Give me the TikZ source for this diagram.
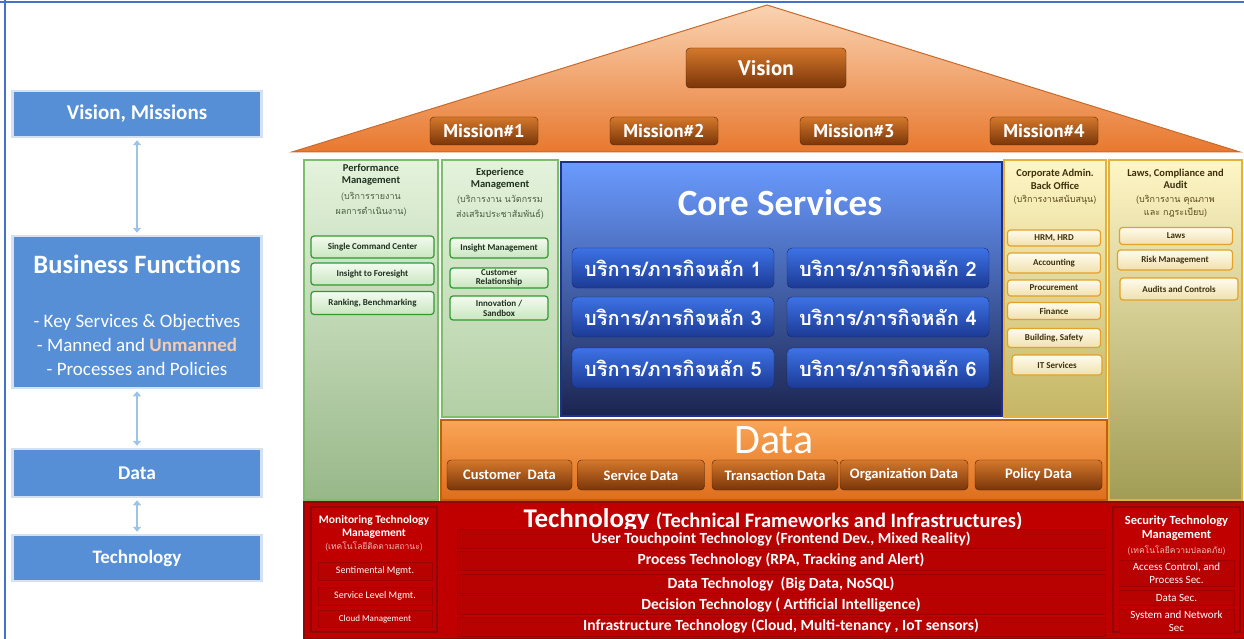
\documentclass[tikz,border=0pt]{standalone}
\usepackage{fontspec}
\setmainfont{Carlito}
\newfontfamily\thaifont[Script=Thai]{Loma}
\newfontfamily\roofFont{PT Sans}
\usetikzlibrary{arrows.meta, positioning, calc}
\definecolor{frameBlue}{HTML}{4472C4}
\definecolor{leftBlue}{HTML}{568FD6}
\definecolor{leftGlow}{HTML}{D5E1F1}
\definecolor{linkBlue}{HTML}{9DC3E6}
\definecolor{peach}{HTML}{F8CBAD}
\definecolor{roofTop}{HTML}{FAD3B2}
\definecolor{roofBot}{HTML}{E8782E}
\definecolor{roofEdge}{HTML}{C9692A}
\definecolor{brownTop}{HTML}{D4782C}
\definecolor{brownBot}{HTML}{7A3508}
\definecolor{brownEdge}{HTML}{4E2206}
\definecolor{greenTop}{HTML}{E4F3DC}
\definecolor{greenMid}{HTML}{B3CFA5}
\definecolor{greenBot}{HTML}{98B889}
\definecolor{greenEdge}{HTML}{7DBE6C}
\definecolor{greenBtn}{HTML}{2E9B2E}
\definecolor{greenBtnTop}{HTML}{F4FBF0}
\definecolor{greenBtnBot}{HTML}{C9E6BF}
\definecolor{greenText}{HTML}{1E301E}
\definecolor{greenSub}{HTML}{4A5E40}
\definecolor{coreTop}{HTML}{6A9BFF}
\definecolor{coreBot}{HTML}{1B2450}
\definecolor{coreEdge}{HTML}{1F2F8F}
\definecolor{cbtnTop}{HTML}{3D72E6}
\definecolor{cbtnBot}{HTML}{1C3A94}
\definecolor{cbtnEdge}{HTML}{172A70}
\definecolor{yelTop}{HTML}{FFF6C6}
\definecolor{yelMid}{HTML}{C4B664}
\definecolor{yelBot}{HTML}{A19C55}
\definecolor{yelEdge}{HTML}{E3B23C}
\definecolor{yelBtn}{HTML}{E3A127}
\definecolor{yelBtnTop}{HTML}{FFFCEE}
\definecolor{yelBtnBot}{HTML}{EFE0AE}
\definecolor{yelText}{HTML}{3E300C}
\definecolor{yelSub}{HTML}{5A4A1A}
\definecolor{dataTop}{HTML}{FAA556}
\definecolor{dataBot}{HTML}{DE6E1C}
\definecolor{dataEdge}{HTML}{C0600F}
\definecolor{techRed}{HTML}{C00000}
\definecolor{techEdge}{HTML}{8E0A0A}
\definecolor{techRow}{HTML}{B80202}
\definecolor{techRowEdge}{HTML}{A00000}
\definecolor{techSub}{HTML}{F3B9B9}

\begin{document}
\begin{tikzpicture}[x=1pt, y=-1pt, >={Triangle[length=5pt, width=8pt]},
    lbox/.style={draw=leftGlow, line width=2.5pt, fill=leftBlue, text=white,
        minimum width=249, inner sep=0pt},
    link/.style={<->, line width=2.5pt, linkBlue, shorten >=2pt, shorten <=2pt},
    mission/.style={draw=brownEdge, rounded corners=4pt, top color=brownTop,
        bottom color=brownBot, text=white, inner sep=0pt,
        font=\roofFont\bfseries\fontsize{18.5}{18.5}\selectfont,
        minimum width=108, minimum height=28},
    gcol/.style={draw=greenEdge, line width=1.2pt, top color=greenTop,
        bottom color=greenBot, inner sep=0pt},
    ycol/.style={draw=yelEdge, line width=1.2pt, top color=yelTop,
        bottom color=yelBot, inner sep=0pt},
    ctitle/.style={inner sep=0pt, align=center,
        font=\bfseries\fontsize{10.5}{12.5}\selectfont},
    csub/.style={inner sep=0pt, align=center,
        font=\thaifont\fontsize{9}{15}\selectfont},
    gbtn/.style={draw=greenBtn, line width=1.2pt, rounded corners=3pt,
        top color=greenBtnTop, bottom color=greenBtnBot, text=greenText,
        inner sep=0pt, align=center,
        font=\bfseries\fontsize{9}{9}\selectfont},
    ybtn/.style={draw=yelBtn, line width=1.2pt, rounded corners=3pt,
        top color=yelBtnTop, bottom color=yelBtnBot, text=yelText,
        inner sep=0pt, font=\bfseries\fontsize{9}{9}\selectfont},
    cbtn/.style={draw=cbtnEdge, rounded corners=5pt, top color=cbtnTop,
        bottom color=cbtnBot, text=white, inner sep=0pt,
        minimum width=202, minimum height=40,
        font=\thaifont\bfseries\fontsize{20}{20}\selectfont},
    dbtn/.style={draw=brownEdge, rounded corners=4pt, top color=brownTop,
        bottom color=brownBot, text=white, inner sep=0pt, minimum height=30,
        font=\bfseries\fontsize{14.5}{14.5}\selectfont},
    rbox/.style={draw=techEdge, line width=1.5pt, fill=techRed, inner sep=0pt},
    rbtn/.style={draw=techRowEdge, fill=techRow, text=white, inner sep=0pt,
        align=center, font=\fontsize{10}{12}\selectfont},
    trow/.style={draw=techRowEdge, fill=techRow, text=white, inner sep=0pt,
        minimum width=648, minimum height=19,
        font=\bfseries\fontsize{15.5}{15.5}\selectfont}]

    \useasboundingbox (0,0) rectangle (1244,639);

    % Frame
    \draw[frameBlue, line width=1.5pt] (0,2) -- (1244,2);
    \draw[frameBlue, line width=1.5pt] (5,0) -- (5,639);

    % Left panel
    \node[lbox, minimum height=46, font=\bfseries\fontsize{21}{21}\selectfont] (vm) at (137,114) {Vision, Missions};
    \node[lbox, minimum height=152] (bf) at (137,312) {};
    \node[text=white, inner sep=0pt, font=\bfseries\fontsize{26.5}{26.5}\selectfont] (bft) at (137,264) {Business Functions};
    \node[text=white, inner sep=0pt, align=center, font=\fontsize{19}{24}\selectfont] (bfl) at (137,345)
        {- Key Services \& Objectives\\- Manned and \textbf{\color{peach}Unmanned}\\- Processes and Policies};
    \node[lbox, minimum height=48, font=\bfseries\fontsize{19.5}{19.5}\selectfont] (dt) at (137,473) {Data};
    \node[lbox, minimum height=46, font=\bfseries\fontsize{19}{19}\selectfont] (tc) at (137,558) {Technology};
    \draw[link] (vm) -- (bf);
    \draw[link] (bf) -- (dt);
    \draw[link] (dt) -- (tc);

    % Roof
    \coordinate (apex) at (767,5);
    \coordinate (eaveL) at (292,152);
    \coordinate (eaveR) at (1240,152);
    \shade[top color=roofTop, bottom color=roofBot, draw=roofEdge, line width=1pt] (apex) -- (eaveR) -- (eaveL) -- cycle;
    \node[mission, minimum width=160, minimum height=40, font=\roofFont\bfseries\fontsize{21}{21}\selectfont] (vis) at (766,68) {Vision};
    \foreach \i/\x in {1/484, 2/664, 3/854, 4/1044}
        \node[mission] (m\i) at (\x,131) {Mission\#\i};

    % Columns
    \node[gcol, minimum width=134, minimum height=340] (perf) at (371,330) {};
    \node[gcol, bottom color=greenMid, minimum width=116, minimum height=257] (expr) at (500,288.5) {};
    \node[draw=coreEdge, line width=1.2pt, top color=coreTop, bottom color=coreBot, inner sep=0pt,
        minimum width=441, minimum height=254] (core) at (781.5,289) {};
    \node[ycol, bottom color=yelMid, minimum width=102, minimum height=257] (corp) at (1055,288.5) {};
    \node[ycol, minimum width=133, minimum height=340] (laws) at (1175.5,330) {};

    % Performance
    \node[ctitle, text=greenText] (perft) at (371,174.5) {Performance\\Management};
    \node[csub, text=greenSub] (perfs) at (371,204.5) {(บริการรายงาน\\ผลการดำเนินงาน)};
    \node[gbtn, minimum width=123, minimum height=22] (pb1) at (372.5,247) {Single Command Center};
    \node[gbtn, minimum width=123, minimum height=22] (pb2) at (372.5,274) {Insight to Foresight};
    \node[gbtn, minimum width=123, minimum height=23] (pb3) at (372.5,303) {Ranking, Benchmarking};

    % Experience
    \node[ctitle, text=greenText] (exprt) at (500,178.5) {Experience\\Management};
    \node[csub, text=greenSub] (exprs) at (500,207) {(บริการงาน นวัตกรรม\\ส่งเสริมประชาสัมพันธ์)};
    \node[gbtn, minimum width=98, minimum height=20] (eb1) at (499,248) {Insight Management};
    \node[gbtn, minimum width=98, minimum height=20, font=\bfseries\fontsize{9}{8.5}\selectfont] (eb2) at (499,278) {Customer\\Relationship};
    \node[gbtn, minimum width=98, minimum height=24, font=\bfseries\fontsize{9}{10}\selectfont] (eb3) at (499,308) {Innovation /\\Sandbox};

    % Core services
    \node[text=white, inner sep=0pt, font=\bfseries\fontsize{37}{37}\selectfont] (coret) at (780,203) {Core Services};
    \node[cbtn] (cs1) at (673,268) {บริการ/ภารกิจหลัก 1};
    \node[cbtn] (cs2) at (888,268) {บริการ/ภารกิจหลัก 2};
    \node[cbtn] (cs3) at (673,317) {บริการ/ภารกิจหลัก 3};
    \node[cbtn] (cs4) at (888,317) {บริการ/ภารกิจหลัก 4};
    \node[cbtn] (cs5) at (673,368) {บริการ/ภารกิจหลัก 5};
    \node[cbtn] (cs6) at (888,368) {บริการ/ภารกิจหลัก 6};

    % Back office
    \node[ctitle, text=yelText] (corpt) at (1055,179.5) {Corporate Admin.\\Back Office};
    \node[csub, text=yelSub] (corps) at (1055,200) {(บริการงานสนับสนุน)};
    \node[ybtn, minimum width=93, minimum height=16] (yb1) at (1054,238) {HRM, HRD};
    \node[ybtn, minimum width=93, minimum height=20] (yb2) at (1054,263) {Accounting};
    \node[ybtn, minimum width=93, minimum height=16] (yb3) at (1054,288) {Procurement};
    \node[ybtn, minimum width=93, minimum height=17] (yb4) at (1054,311) {Finance};
    \node[ybtn, minimum width=93, minimum height=19] (yb5) at (1054,338) {Building, Safety};
    \node[ybtn, minimum width=90, minimum height=20] (yb6) at (1057,365) {IT Services};

    % Laws
    \node[ctitle, text=yelText] (lawst) at (1175.5,179) {Laws, Compliance and\\Audit};
    \node[csub, text=yelSub, font=\thaifont\fontsize{9}{13}\selectfont] (lawss) at (1175.5,206.5) {(บริการงาน คุณภาพ\\และ กฎระเบียบ)};
    \node[ybtn, minimum width=113, minimum height=17] (lb1) at (1176,236) {Laws};
    \node[ybtn, minimum width=115, minimum height=20] (lb2) at (1175,260) {Risk Management};
    \node[ybtn, minimum width=118, minimum height=22] (lb3) at (1179,289) {Audits and Controls};

    % Data
    \node[draw=dataEdge, line width=1.2pt, top color=dataTop, bottom color=dataBot, inner sep=0pt,
        minimum width=666, minimum height=80] (data) at (774,460) {};
    \node[text=white, inner sep=0pt, font=\fontsize{42}{42}\selectfont] (datat) at (774,440) {Data};
    \node[dbtn, minimum width=125] (d1) at (509.5,475) {Customer\ \ Data};
    \node[dbtn, minimum width=127] (d2) at (641,475) {Service Data};
    \node[dbtn, minimum width=126] (d3) at (775,475) {Transaction Data};
    \node[dbtn, minimum width=128] (d4) at (904,475) {Organization Data};
    \node[dbtn, minimum width=127] (d5) at (1038.5,475) {Policy Data};

    % Technology
    \node[draw=techEdge, line width=1.2pt, fill=techRed, inner sep=0pt,
        minimum width=940, minimum height=137] (tech) at (774,570.5) {};
    \node[text=white, inner sep=0pt, font=\bfseries] (techt) at (773,520)
        {\fontsize{27}{27}\selectfont Technology \fontsize{20.5}{20.5}\selectfont(Technical Frameworks and Infrastructures)};
    \node[trow] (t1) at (781,539) {User Touchpoint Technology (Frontend Dev., Mixed Reality)};
    \node[trow] (t2) at (781,560.5) {Process Technology (RPA, Tracking and Alert)};
    \node[trow] (t3) at (781,584) {Data Technology\ \ (Big Data, NoSQL)};
    \node[trow] (t4) at (781,605) {Decision Technology ( Artificial Intelligence)};
    \node[trow] (t5) at (781,626.5) {Infrastructure Technology (Cloud, Multi-tenancy , IoT sensors)};

    % Monitoring
    \node[rbox, minimum width=126, minimum height=125] (mon) at (374,569.5) {};
    \node[ctitle, text=white, font=\bfseries\fontsize{11.5}{13}\selectfont] (mont) at (374,526.5) {Monitoring Technology\\Management};
    \node[csub, text=techSub, font=\thaifont\fontsize{8.5}{10}\selectfont] (mons) at (374,547) {(เทคโนโลยีติดตามสถานะ)};
    \node[rbtn, minimum width=114, minimum height=18] (mb1) at (375,571) {Sentimental Mgmt.};
    \node[rbtn, minimum width=114, minimum height=18] (mb2) at (375,596) {Service Level Mgmt.};
    \node[rbtn, minimum width=114, minimum height=17, font=\fontsize{9}{9}\selectfont] (mb3) at (375,619) {Cloud Management};

    % Security
    \node[rbox, minimum width=127, minimum height=125] (sec) at (1176.5,569.5) {};
    \node[ctitle, text=white, font=\bfseries\fontsize{12.5}{14}\selectfont] (sect) at (1176.5,528) {Security Technology\\Management};
    \node[csub, text=techSub, font=\thaifont\fontsize{8.5}{10}\selectfont] (secs) at (1176.5,551) {(เทคโนโลยีความปลอดภัย)};
    \node[rbtn, minimum width=115, minimum height=26, font=\fontsize{11}{13}\selectfont] (sb1) at (1176.5,573) {Access Control, and\\Process Sec.};
    \node[rbtn, minimum width=115, minimum height=15, font=\fontsize{11}{13}\selectfont] (sb2) at (1176.5,598) {Data Sec.};
    \node[rbtn, minimum width=115, minimum height=24, font=\fontsize{11}{13}\selectfont] (sb3) at (1176.5,621) {System and Network\\Sec};
\end{tikzpicture}
\end{document}
